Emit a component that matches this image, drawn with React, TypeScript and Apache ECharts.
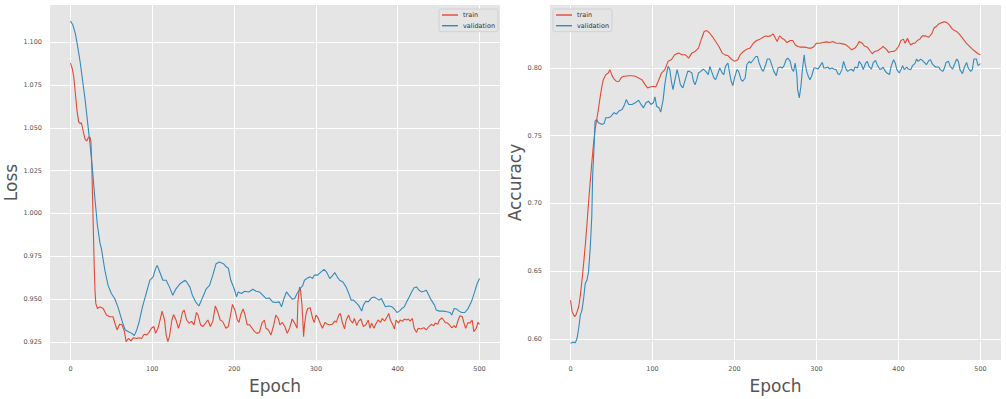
import React, { useEffect, useRef } from "react";
import * as echarts from "echarts";

const seriesNames = ["train", "validation"];
const seriesColors = ["#E24A33", "#348ABD"];
const xTicks = [0, 100, 200, 300, 400, 500];
const lossTicks = [0.925, 0.95, 0.975, 1.0, 1.025, 1.05, 1.075, 1.1];
const accTicks = [0.6, 0.65, 0.7, 0.75, 0.8];

const lossTrainEpochs = [0, 2, 4, 6, 8, 10, 12, 13, 14, 16, 18, 20, 22, 24, 25, 26, 27, 28, 29, 30, 31, 33, 36, 40, 44, 48, 52, 55, 57, 60, 63, 66, 68, 71, 74, 77, 81, 84, 87, 90, 93, 96, 99, 102, 104, 107, 110, 112, 115, 117, 119, 121, 124, 126, 129, 132, 134, 137, 139, 142, 145, 148, 151, 154, 156, 159, 162, 165, 168, 171, 174, 177, 180, 183, 186, 190, 193, 196, 198, 201, 204, 206, 208, 211, 213, 216, 219, 222, 225, 228, 231, 234, 237, 239, 242, 245, 248, 251, 254, 256, 259, 262, 265, 268, 271, 274, 277, 278, 280, 281, 283, 285, 286, 288, 290, 293, 296, 298, 300, 302, 306, 308, 311, 314, 317, 320, 323, 325, 328, 330, 332, 335, 337, 340, 342, 345, 347, 350, 352, 355, 358, 361, 364, 366, 368, 371, 373, 376, 379, 381, 384, 387, 389, 391, 394, 396, 398, 401, 403, 406, 408, 411, 413, 415, 418, 420, 423, 425, 428, 432, 435, 437, 441, 444, 446, 449, 451, 454, 456, 458, 461, 464, 466, 469, 471, 474, 476, 479, 481, 483, 486, 488, 491, 493, 496, 498, 500];
const lossTrainValues = [1.0878, 1.085, 1.08, 1.07, 1.06, 1.0535, 1.0525, 1.053, 1.0515, 1.047, 1.0433, 1.0423, 1.0445, 1.0445, 1.042, 1.03, 1.01, 0.99, 0.97, 0.955, 0.9474, 0.9445, 0.9455, 0.9445, 0.9407, 0.9397, 0.9397, 0.9349, 0.932, 0.9353, 0.935, 0.931, 0.9252, 0.927, 0.9256, 0.9275, 0.927, 0.9275, 0.927, 0.9295, 0.929, 0.9306, 0.933, 0.934, 0.93, 0.933, 0.9387, 0.943, 0.9378, 0.9291, 0.9252, 0.9281, 0.9378, 0.941, 0.9378, 0.933, 0.936, 0.9426, 0.9436, 0.9378, 0.936, 0.937, 0.935, 0.9422, 0.9407, 0.935, 0.934, 0.936, 0.9378, 0.934, 0.937, 0.946, 0.9426, 0.9378, 0.937, 0.933, 0.934, 0.9416, 0.9469, 0.9436, 0.9378, 0.9364, 0.9407, 0.9442, 0.9416, 0.935, 0.935, 0.933, 0.931, 0.93, 0.9306, 0.936, 0.9378, 0.933, 0.932, 0.929, 0.934, 0.9407, 0.9387, 0.935, 0.9364, 0.934, 0.93, 0.9333, 0.9384, 0.936, 0.933, 0.9484, 0.9571, 0.9562, 0.9465, 0.9281, 0.935, 0.9416, 0.9445, 0.945, 0.9387, 0.9364, 0.9407, 0.9397, 0.935, 0.933, 0.9364, 0.9353, 0.935, 0.9353, 0.9372, 0.9364, 0.9407, 0.9416, 0.9368, 0.9326, 0.9378, 0.9407, 0.9378, 0.936, 0.9387, 0.9345, 0.937, 0.9384, 0.934, 0.935, 0.9378, 0.933, 0.936, 0.933, 0.9353, 0.9378, 0.9364, 0.9387, 0.9372, 0.9397, 0.9416, 0.9378, 0.935, 0.9326, 0.9378, 0.936, 0.9378, 0.937, 0.9384, 0.9378, 0.9384, 0.9372, 0.9387, 0.933, 0.9306, 0.933, 0.9326, 0.9333, 0.932, 0.9333, 0.9353, 0.9345, 0.936, 0.9353, 0.9378, 0.939, 0.9378, 0.9364, 0.936, 0.9345, 0.9333, 0.9345, 0.9333, 0.9378, 0.9403, 0.9397, 0.936, 0.933, 0.9364, 0.936, 0.9378, 0.931, 0.933, 0.9364, 0.9353];

const lossValEpochs = [0, 3, 6, 9, 12, 15, 18, 21, 24, 27, 30, 33, 36, 38, 42, 46, 50, 54, 58, 61, 64, 67, 71, 75, 78, 81, 84, 88, 92, 97, 101, 104, 106, 109, 113, 117, 121, 125, 129, 134, 140, 142, 146, 149, 153, 157, 161, 166, 170, 174, 178, 182, 187, 190, 193, 196, 200, 203, 205, 209, 213, 218, 223, 227, 231, 235, 239, 243, 247, 251, 255, 258, 261, 264, 267, 271, 274, 277, 281, 284, 286, 290, 293, 296, 298, 302, 306, 310, 313, 317, 320, 323, 326, 329, 333, 337, 341, 343, 346, 349, 352, 356, 358, 361, 364, 368, 371, 373, 377, 380, 383, 385, 389, 393, 396, 399, 402, 405, 408, 411, 414, 417, 420, 423, 426, 429, 432, 435, 438, 441, 445, 447, 451, 456, 460, 464, 466, 469, 472, 475, 478, 482, 486, 490, 494, 497, 500];
const lossValValues = [1.1124, 1.11, 1.105, 1.097, 1.088, 1.077, 1.066, 1.053, 1.04, 1.025, 1.008, 0.993, 0.983, 0.979, 0.967, 0.958, 0.9533, 0.9504, 0.9455, 0.9407, 0.9358, 0.932, 0.931, 0.93, 0.9287, 0.932, 0.9368, 0.9455, 0.9523, 0.961, 0.963, 0.9678, 0.9697, 0.966, 0.961, 0.961, 0.957, 0.9523, 0.956, 0.959, 0.961, 0.96, 0.957, 0.9523, 0.9484, 0.946, 0.9504, 0.956, 0.958, 0.964, 0.9707, 0.9717, 0.9707, 0.969, 0.968, 0.961, 0.9562, 0.9513, 0.9542, 0.9533, 0.9546, 0.9542, 0.9558, 0.9546, 0.9542, 0.9523, 0.9504, 0.9507, 0.9484, 0.948, 0.9484, 0.9455, 0.9504, 0.9542, 0.9523, 0.95, 0.9504, 0.9533, 0.9562, 0.958, 0.961, 0.9624, 0.963, 0.962, 0.964, 0.964, 0.9658, 0.9674, 0.9658, 0.962, 0.9635, 0.9655, 0.963, 0.961, 0.96, 0.957, 0.9523, 0.9494, 0.9494, 0.948, 0.9465, 0.943, 0.9465, 0.9488, 0.9484, 0.9507, 0.9513, 0.9507, 0.9494, 0.9504, 0.9474, 0.9455, 0.946, 0.9455, 0.9442, 0.9422, 0.943, 0.9445, 0.9455, 0.9484, 0.9513, 0.9542, 0.9566, 0.9571, 0.9552, 0.9542, 0.9546, 0.9552, 0.9523, 0.9494, 0.9465, 0.9436, 0.943, 0.943, 0.9426, 0.9422, 0.9407, 0.9445, 0.9442, 0.943, 0.9422, 0.9422, 0.9445, 0.9484, 0.9542, 0.959, 0.962];

const accTrainEpochs = [0, 2, 5, 7, 10, 12, 14, 16, 18, 20, 22, 24, 26, 28, 30, 32, 34, 36, 38, 40, 43, 46, 48, 51, 53, 56, 59, 62, 65, 67, 71, 75, 79, 83, 87, 91, 94, 97, 101, 104, 107, 111, 115, 119, 123, 127, 132, 136, 140, 144, 148, 152, 156, 160, 163, 166, 169, 173, 177, 181, 185, 189, 192, 196, 200, 204, 207, 211, 215, 219, 223, 227, 231, 235, 238, 241, 244, 247, 250, 252, 255, 258, 261, 264, 268, 271, 274, 277, 281, 286, 290, 294, 297, 300, 304, 308, 312, 316, 320, 324, 328, 332, 336, 340, 343, 347, 350, 352, 356, 358, 362, 365, 368, 371, 375, 379, 381, 385, 388, 391, 394, 397, 400, 403, 406, 408, 411, 413, 415, 418, 420, 423, 426, 429, 433, 437, 441, 443, 446, 449, 453, 456, 459, 462, 465, 468, 471, 474, 478, 482, 486, 490, 494, 497, 500];
const accTrainValues = [0.6286, 0.62, 0.6164, 0.6181, 0.6238, 0.6323, 0.6433, 0.6556, 0.669, 0.6837, 0.7009, 0.7156, 0.7302, 0.7437, 0.7547, 0.762, 0.7694, 0.778, 0.7853, 0.7914, 0.7951, 0.7963, 0.7988, 0.794, 0.792, 0.7902, 0.79, 0.793, 0.7939, 0.7939, 0.7943, 0.7943, 0.7939, 0.7926, 0.7914, 0.7877, 0.7853, 0.786, 0.7865, 0.786, 0.7902, 0.7963, 0.7988, 0.8049, 0.8061, 0.8098, 0.811, 0.8098, 0.8098, 0.8073, 0.811, 0.8122, 0.8147, 0.822, 0.8269, 0.8276, 0.8262, 0.8232, 0.8196, 0.8159, 0.811, 0.8095, 0.8092, 0.8066, 0.8049, 0.8061, 0.8098, 0.8122, 0.8139, 0.8147, 0.8183, 0.8203, 0.8213, 0.8227, 0.8237, 0.8232, 0.8237, 0.8252, 0.822, 0.8196, 0.8237, 0.822, 0.8208, 0.8188, 0.8203, 0.8203, 0.8171, 0.8159, 0.8154, 0.8154, 0.8147, 0.8147, 0.8159, 0.8183, 0.8183, 0.8188, 0.8193, 0.8188, 0.8196, 0.8183, 0.8183, 0.8178, 0.8171, 0.815, 0.8134, 0.8147, 0.8171, 0.8196, 0.8183, 0.8164, 0.8154, 0.8129, 0.8105, 0.8122, 0.8129, 0.8147, 0.8159, 0.8139, 0.8115, 0.8122, 0.8122, 0.8134, 0.8159, 0.8203, 0.8213, 0.8183, 0.822, 0.8188, 0.8171, 0.8183, 0.8183, 0.8203, 0.8213, 0.8237, 0.8237, 0.8227, 0.8257, 0.8293, 0.8306, 0.8325, 0.8335, 0.8342, 0.8335, 0.8318, 0.8293, 0.8276, 0.8269, 0.8252, 0.822, 0.8188, 0.8164, 0.8139, 0.812, 0.8105, 0.8098];

const accValEpochs = [0, 3, 6, 8, 10, 12, 14, 16, 18, 20, 22, 24, 26, 27, 29, 30, 32, 34, 38, 41, 43, 46, 49, 53, 56, 59, 63, 66, 68, 71, 75, 79, 83, 86, 89, 92, 95, 98, 101, 103, 105, 108, 110, 113, 115, 117, 119, 121, 123, 125, 127, 130, 132, 134, 137, 140, 143, 145, 148, 150, 152, 154, 156, 159, 162, 165, 168, 170, 172, 175, 177, 180, 182, 185, 187, 189, 192, 194, 196, 198, 200, 203, 205, 208, 210, 213, 215, 218, 220, 223, 226, 228, 230, 233, 235, 238, 240, 243, 246, 248, 251, 253, 256, 258, 260, 263, 265, 268, 270, 272, 274, 276, 277, 279, 281, 283, 285, 286, 288, 290, 292, 294, 297, 299, 302, 304, 307, 309, 311, 314, 316, 319, 321, 324, 326, 328, 331, 333, 336, 338, 341, 343, 345, 347, 350, 352, 355, 357, 360, 362, 364, 367, 369, 372, 374, 377, 379, 381, 384, 386, 389, 391, 394, 396, 398, 401, 403, 405, 407, 410, 412, 415, 417, 420, 422, 424, 427, 429, 432, 434, 437, 439, 441, 444, 446, 449, 451, 454, 456, 458, 461, 463, 466, 468, 471, 473, 475, 478, 480, 483, 485, 488, 490, 492, 495, 497, 500];
const accValValues = [0.5968, 0.5975, 0.5973, 0.6005, 0.6079, 0.6176, 0.6213, 0.6299, 0.6409, 0.6433, 0.6495, 0.6666, 0.691, 0.7204, 0.7449, 0.7608, 0.762, 0.7596, 0.7584, 0.759, 0.7633, 0.7633, 0.764, 0.767, 0.766, 0.7682, 0.7694, 0.7731, 0.7767, 0.7731, 0.7731, 0.7743, 0.7762, 0.7731, 0.7706, 0.7743, 0.7755, 0.7731, 0.7743, 0.7787, 0.7718, 0.7706, 0.7674, 0.7767, 0.7877, 0.7951, 0.8012, 0.7992, 0.7902, 0.7841, 0.7902, 0.7988, 0.7939, 0.7877, 0.7853, 0.7914, 0.7975, 0.7975, 0.7963, 0.7902, 0.7877, 0.7914, 0.7963, 0.7975, 0.7992, 0.7975, 0.7951, 0.8012, 0.7975, 0.7926, 0.7914, 0.7963, 0.8, 0.7963, 0.7951, 0.8012, 0.8037, 0.7963, 0.7902, 0.787, 0.7926, 0.7988, 0.7975, 0.7914, 0.7902, 0.7926, 0.8024, 0.8049, 0.8037, 0.8061, 0.8085, 0.8085, 0.8037, 0.7992, 0.7975, 0.8024, 0.8066, 0.8066, 0.8012, 0.7975, 0.7943, 0.8, 0.8007, 0.8, 0.8012, 0.8061, 0.8073, 0.8049, 0.7992, 0.7975, 0.8037, 0.7951, 0.7841, 0.778, 0.7865, 0.8, 0.8098, 0.8037, 0.7975, 0.7939, 0.7914, 0.7939, 0.8, 0.8, 0.7992, 0.8012, 0.8041, 0.8, 0.8, 0.8007, 0.7992, 0.8, 0.7992, 0.7988, 0.7958, 0.7951, 0.7988, 0.8049, 0.7992, 0.7975, 0.7988, 0.799, 0.7975, 0.8007, 0.8, 0.8049, 0.8024, 0.7988, 0.8037, 0.8049, 0.8012, 0.7992, 0.8037, 0.8056, 0.8024, 0.7992, 0.7992, 0.8007, 0.7975, 0.7963, 0.7951, 0.8012, 0.8061, 0.8037, 0.7988, 0.7963, 0.7988, 0.8017, 0.7988, 0.8007, 0.7992, 0.7988, 0.8017, 0.8032, 0.8066, 0.8049, 0.8066, 0.8056, 0.8037, 0.8024, 0.8056, 0.8061, 0.8032, 0.8012, 0.8007, 0.8007, 0.7988, 0.7975, 0.8, 0.8041, 0.8049, 0.8012, 0.7992, 0.8024, 0.8066, 0.8049, 0.7988, 0.7958, 0.8, 0.8041, 0.8, 0.7975, 0.7988, 0.8066, 0.8066, 0.8017, 0.8032];

const FONT = "'DejaVu Sans', sans-serif";

function pairs(xs: number[], ys: number[]) {
  return xs.map((x, i) => [x, ys[i]]);
}

function makeX(gridIndex: number) {
  return {
    type: "value",
    gridIndex,
    min: -25,
    max: 525,
    name: "Epoch",
    nameLocation: "middle",
    nameGap: 14,
    nameTextStyle: { fontSize: 17, color: "#555555", fontFamily: FONT },
    axisLine: { show: false },
    axisTick: { show: false, customValues: xTicks },
    axisLabel: {
      customValues: xTicks,
      fontSize: 6.5,
      color: "#555555",
      fontFamily: FONT,
      margin: 5,
    },
    splitLine: { show: true, lineStyle: { color: "#FFFFFF", width: 1 } },
  };
}

function makeY(gridIndex: number, name: string, min: number, max: number, ticks: number[], digits: number, gap: number) {
  return {
    type: "value",
    gridIndex,
    min,
    max,
    name,
    nameLocation: "middle",
    nameGap: gap,
    nameTextStyle: { fontSize: 17, color: "#555555", fontFamily: FONT },
    axisLine: { show: false },
    axisTick: { show: false, customValues: ticks },
    axisLabel: {
      customValues: ticks,
      fontSize: 6.5,
      color: "#555555",
      fontFamily: FONT,
      margin: 8,
      formatter: (v: number) => v.toFixed(digits),
    },
    splitLine: { show: true, lineStyle: { color: "#FFFFFF", width: 1 } },
  };
}

function makeLegend(left: number) {
  return {
    left,
    top: 9,
    orient: "vertical",
    data: seriesNames,
    icon: "rect",
    itemWidth: 16,
    itemHeight: 1.4,
    itemGap: 2.7,
    padding: [2, 3, 2, 3],
    backgroundColor: "#E5E5E5",
    borderColor: "#CCCCCC",
    borderWidth: 0.8,
    borderRadius: 2,
    textStyle: { fontSize: 6.5, color: "#333333", fontFamily: FONT, lineHeight: 8 },
  };
}

function line(name: string, color: string, data: number[][], idx: number) {
  return {
    type: "line",
    name,
    data,
    xAxisIndex: idx,
    yAxisIndex: idx,
    showSymbol: false,
    symbol: "none",
    color,
    lineStyle: { color, width: 1.1 },
  };
}

export default function App() {
  const ref = useRef<HTMLDivElement>(null);
  useEffect(() => {
    const chart = echarts.init(ref.current!, undefined, { renderer: "svg" });
    chart.setOption({
      animation: false,
      backgroundColor: "#FFFFFF",
      grid: [
        { left: 50, top: 5, width: 450, height: 357, show: true, backgroundColor: "#E5E5E5", borderWidth: 0 },
        { left: 550, top: 5, width: 451, height: 357, show: true, backgroundColor: "#E5E5E5", borderWidth: 0 },
      ],
      xAxis: [makeX(0), makeX(1)],
      yAxis: [
        makeY(0, "Loss", 0.9144, 1.1217, lossTicks, 3, 23),
        makeY(1, "Accuracy", 0.5844, 0.8465, accTicks, 2, 20),
      ],
      legend: [makeLegend(439), makeLegend(553)],
      series: [
        line(seriesNames[0], seriesColors[0], pairs(lossTrainEpochs, lossTrainValues), 0),
        line(seriesNames[1], seriesColors[1], pairs(lossValEpochs, lossValValues), 0),
        line(seriesNames[0], seriesColors[0], pairs(accTrainEpochs, accTrainValues), 1),
        line(seriesNames[1], seriesColors[1], pairs(accValEpochs, accValValues), 1),
      ],
    });
    return () => chart.dispose();
  }, []);
  return (
    <div
      ref={ref}
      style={{ position: "fixed", left: 0, top: 0, width: 1006, height: 399, background: "#FFFFFF" }}
    />
  );
}
